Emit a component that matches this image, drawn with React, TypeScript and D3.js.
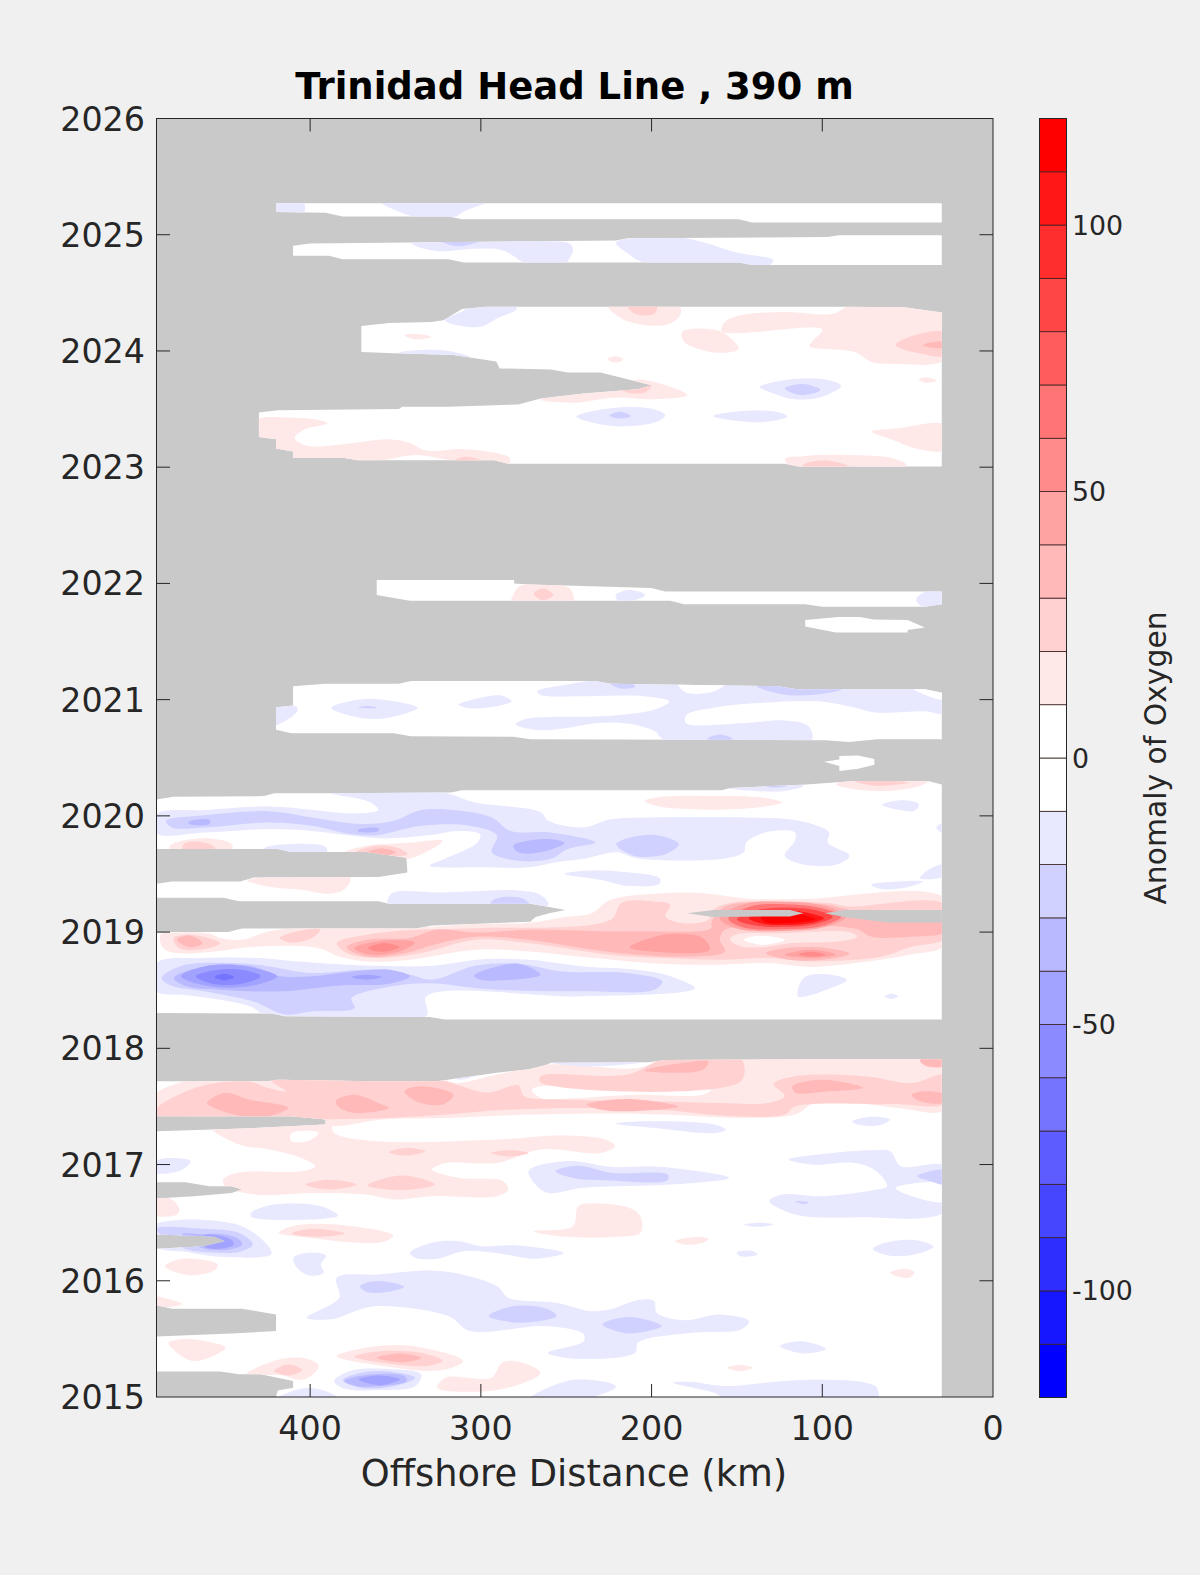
import React from "react";
import * as d3 from "d3";

type Pt = [number, number];
type Shape = Pt[];

const title = "Trinidad Head Line , 390 m";
const xLabel = "Offshore Distance (km)";
const barLabel = "Anomaly of Oxygen";
const xTicks = [400, 300, 200, 100, 0];
const yTicks = [2015, 2016, 2017, 2018, 2019, 2020, 2021, 2022, 2023, 2024, 2025, 2026];
const barTicks = [-100, -50, 0, 50, 100];
const barEdges = [-120,-110,-100,-90,-80,-70,-60,-50,-40,-30,-20,-10,0,10,20,30,40,50,60,70,80,90,100,110,120];

// Parts of the section that hold data (km, year)
const validRegions: Shape[] = [
  [[420,2025.27],[30,2025.27],[30,2025.106],[141,2025.106],[149,2025.134],[311,2025.134],[319,2025.157],[381,2025.157],[391,2025.19],[420,2025.195]],
  [[410,2024.905],[400,2024.925],[221,2024.95],[214,2024.97],[97,2024.98],[90,2024.995],[30,2024.995],[30,2024.74],[141,2024.74],[149,2024.76],[310,2024.76],[319,2024.79],[381,2024.79],[389,2024.82],[410,2024.82]],
  [[30,2024.33],[52,2024.375],[87,2024.38],[281,2024.38],[297,2024.38],[311,2024.36],[322,2024.265],[329,2024.25],[354,2024.24],[370,2024.215],[370,2023.99],[351,2023.98],[316,2023.965],[291,2023.91],[289,2023.85],[259,2023.84],[249,2023.815],[230,2023.815],[200,2023.705],[208,2023.67],[240,2023.635],[265,2023.59],[278,2023.54],[319,2023.52],[346,2023.52],[348,2023.5],[419,2023.49],[430,2023.47],[430,2023.26],[420,2023.24],[420,2023.16],[410,2023.135],[410,2023.08],[380,2023.08],[372,2023.06],[292,2023.06],[284,2023.03],[122,2023.03],[114,2023.005],[30,2023.005]],
  [[361,2022.03],[280.5,2022.03],[280.5,2022.0],[271,2021.99],[200,2021.96],[192,2021.93],[30,2021.93],[30,2021.82],[40,2021.8],[100,2021.8],[110,2021.82],[181,2021.82],[189,2021.85],[341.5,2021.85],[361,2021.9]],
  [[110,2021.686],[90.5,2021.71],[78,2021.71],[70,2021.69],[50,2021.686],[40,2021.62],[50,2021.6],[50,2021.577],[92,2021.577],[110,2021.63]],
  [[410,2021.115],[391,2021.137],[348,2021.137],[341,2021.16],[233,2021.16],[224,2021.137],[126,2021.115],[115,2021.09],[40,2021.09],[30,2021.06],[30,2020.66],[68,2020.66],[84,2020.635],[98,2020.65],[271,2020.66],[281,2020.68],[341,2020.686],[351,2020.71],[411,2020.71],[420,2020.74],[420,2020.935],[410,2020.95]],
  [[99,2020.466],[90,2020.486],[90,2020.515],[79,2020.52],[69.5,2020.49],[69.5,2020.44],[79,2020.405],[90,2020.385],[90,2020.43]],
  [[30,2020.27],[38,2020.3],[81,2020.3],[109.5,2020.27],[154,2020.24],[159,2020.22],[311,2020.22],[317.5,2020.2],[389,2020.195],[421,2020.195],[427,2020.17],[480,2020.165],[490,2020.14],
   [490,2019.714],[419,2019.714],[411,2019.69],[367,2019.69],[343.6,2019.64],[343,2019.513],[360,2019.473],[433,2019.47],[441,2019.435],[481,2019.435],[490,2019.415],
   [490,2019.295],[451,2019.295],[441.6,2019.266],[360,2019.266],[354,2019.243],[271,2019.243],[260,2019.215],[250.5,2019.19],[260,2019.163],[268,2019.13],[271,2019.09],[328.6,2019.057],[338,2019.03],[440,2019.03],[448,2019.0],[490,2019.0],
   [490,2018.304],[422.6,2018.3],[414.6,2018.275],[330,2018.27],[321,2018.247],[30,2018.247],
   [30,2017.908],[192,2017.9],[201.7,2017.88],[259,2017.875],[261,2017.86],[271.6,2017.82],[290.7,2017.79],[325.6,2017.717],[363.6,2017.717],[419,2017.73],[425,2017.717],[490,2017.717],
   [490,2017.415],[411,2017.415],[391,2017.387],[391,2017.344],[443.6,2017.307],[490,2017.286],
   [490,2016.848],[473,2016.848],[459,2016.814],[446,2016.814],[440,2016.785],[446,2016.756],[468,2016.728],[490,2016.708],
   [490,2016.398],[456,2016.38],[449.6,2016.34],[462,2016.298],[490,2016.275],
   [490,2015.79],[481,2015.76],[440,2015.76],[420,2015.71],[420,2015.567],[446,2015.547],[490,2015.52],
   [490,2015.22],[452.7,2015.22],[441.6,2015.195],[429,2015.195],[410,2015.138],[410,2015.08],[419,2015.057],[420,2015.0],[30,2015.0]],
];

// Grey slivers that sit inside the data area
const greyIslands: Shape[] = [
  [[179,2019.163],[164,2019.19],[119,2019.19],[111,2019.163],[119,2019.135],[164,2019.13]],
  [[98.4,2019.163],[87,2019.19],[30,2019.19],[30,2019.083],[62,2019.083],[87,2019.13]],
];

const neg1: Shape[] = [
  [[420,2025.28],[404,2025.28],[404,2025.18],[420,2025.18]],
  [[360,2025.3],[338,2025.15],[316,2025.15],[310,2025.2],[295,2025.28],[290,2025.3]],
  [[340,2024.92],[326,2024.86],[303.4,2024.88],[287,2024.865],[271.6,2024.74],[252,2024.74],[246,2024.865],[247.7,2024.92],[262,2024.945],[300,2024.957],[341.5,2024.97]],
  [[221,2024.93],[214,2024.965],[182.6,2024.975],[170,2024.937],[151,2024.85],[128.6,2024.78],[132,2024.73],[205,2024.765],[214,2024.84]],
  [[309.7,2024.35],[321,2024.265],[313,2024.22],[300,2024.21],[290.6,2024.28],[279,2024.36],[281,2024.4],[306.5,2024.39]],
  [[348,2023.985],[332,2024.01],[319,2024.0],[306.5,2023.95],[325.6,2023.945]],
  [[244,2023.435],[224,2023.507],[201.7,2023.507],[192,2023.45],[197,2023.39],[217.6,2023.35],[236.6,2023.39]],
  [[164,2023.44],[144.5,2023.486],[125,2023.47],[120.6,2023.435],[132,2023.39],[151,2023.4]],
  [[136.5,2023.69],[119,2023.755],[97,2023.75],[89,2023.7],[100,2023.607],[116,2023.584],[128.6,2023.635]],
  [[221,2021.9],[213,2021.943],[203.7,2021.9],[211.6,2021.85],[220,2021.857]],
  [[45,2021.857],[41,2021.92],[28,2021.94],[28,2021.82],[41,2021.8]],
  [[387.6,2020.93],[372,2021.0],[357.6,2021.0],[337,2020.93],[354.6,2020.843],[370.5,2020.843]],
  [[313,2020.957],[303,2021.006],[287.6,2021.034],[282,2020.986],[291,2020.943],[306.6,2020.926]],
  [[422,2020.93],[408,2020.94],[407.5,2020.9],[422,2020.777]],
  [[267,2021.07],[249.6,2021.13],[230,2021.17],[120,2021.17],[28,2021.12],[28,2020.886],[40,2020.9],[68.6,2020.89],[84.5,2020.943],[103,2020.986],[138,2020.97],[163.5,2020.93],[179.4,2020.87],[180,2020.8],[144.5,2020.8],[122,2020.82],[108,2020.77],[106.4,2020.65],[192,2020.65],[198.4,2020.73],[214,2020.794],[232,2020.8],[249.6,2020.757],[265.4,2020.737],[279.6,2020.786],[274.8,2020.83],[258.9,2020.85],[230,2020.857],[198.5,2020.914],[189.6,2020.986],[204.8,2021.03],[239.8,2021.03],[265,2021.04]],
  [[157,2020.243],[130,2020.29],[112.7,2020.27],[111,2020.257],[122,2020.214],[147.7,2020.223]],
  [[65,2020.094],[54,2020.134],[43.4,2020.1],[46,2020.043],[54,2020.05]],
  [[28,2019.943],[33.3,2019.9],[28,2019.843]],
  [[490,2020.014],[462,2020.05],[424,2020.08],[398,2020.05],[376,2020.02],[360,2020.05],[365,2020.12],[389,2020.2],[322.4,2020.2],[303.4,2020.114],[265.2,2020.034],[260.5,2019.957],[239.8,2019.9],[224,2019.97],[198.5,2019.986],[144.5,2019.986],[119,2019.97],[103,2019.914],[96,2019.857],[96.8,2019.77],[84,2019.657],[90.5,2019.586],[109.5,2019.577],[122,2019.657],[116,2019.786],[116,2019.857],[131.8,2019.863],[144.5,2019.77],[146,2019.686],[157,2019.634],[208,2019.634],[220.7,2019.686],[239.8,2019.63],[255.7,2019.6],[272,2019.557],[297,2019.557],[330,2019.571],[321,2019.63],[302,2019.77],[300.4,2019.84],[313,2019.87],[332,2019.83],[357.6,2019.806],[376.6,2019.83],[398.8,2019.87],[424,2019.886],[462,2019.857],[490,2019.85]],
  [[427,2019.72],[411.3,2019.757],[390.7,2019.73],[390.7,2019.67],[427,2019.68]],
  [[250.9,2019.5],[239.8,2019.527],[217.6,2019.52],[195.3,2019.464],[195.3,2019.415],[214.4,2019.398],[230,2019.45]],
  [[71.4,2019.407],[55.5,2019.435],[41,2019.435],[49.2,2019.39],[65,2019.37]],
  [[42.8,2019.464],[36.4,2019.55],[28,2019.58],[28,2019.484]],
  [[352.6,2019.33],[322.4,2019.34],[293.8,2019.358],[278,2019.358],[265,2019.32],[260.5,2019.235],[354,2019.22]],
  [[490,2018.733],[462,2018.777],[430,2018.777],[408,2018.748],[360.7,2018.71],[328.6,2018.71],[296.8,2018.768],[271.6,2018.762],[239.8,2018.705],[208,2018.676],[189,2018.62],[174.7,2018.52],[179.4,2018.49],[239.8,2018.447],[331.9,2018.447],[331.9,2018.28],[425,2018.28],[435,2018.36],[452.8,2018.418],[474.8,2018.46],[490,2018.49]],
  [[114.3,2018.447],[111,2018.605],[100,2018.64],[85.7,2018.59],[100,2018.49],[109.5,2018.447]],
  [[63.5,2018.447],[59.3,2018.47],[55.5,2018.447],[59.3,2018.424]],
  [[259,2017.875],[233,2017.89],[202,2017.89],[215,2017.86],[239.8,2017.845]],
  [[319,2017.76],[303,2017.765],[313,2017.73]],
  [[220.7,2017.352],[208,2017.37],[163.5,2017.344],[156.6,2017.3],[163.5,2017.27],[198.5,2017.316]],
  [[82.5,2017.37],[73,2017.41],[60.3,2017.387],[66.6,2017.338],[79.3,2017.344]],
  [[272,2016.943],[249,2017.03],[223.9,2016.98],[195.3,2016.98],[154.6,2016.885],[189,2016.828],[239.8,2016.8],[260.5,2016.756],[267,2016.814]],
  [[119.7,2017.043],[96.8,2017.095],[71.4,2017.123],[60.3,2017.115],[54,2016.986],[28,2016.986],[28,2016.6],[77.8,2016.547],[112.7,2016.56],[123.8,2016.613],[131,2016.685],[123.8,2016.742],[100,2016.728],[68.2,2016.785],[62,2016.814],[68.2,2016.943],[81,2017.014],[106.4,2017.0]],
  [[146,2016.484],[136.5,2016.5],[128.6,2016.484],[138,2016.464]],
  [[434.5,2016.585],[424.3,2016.648],[408.5,2016.665],[392.6,2016.636],[383.7,2016.56],[434.5,2016.55]],
  [[492,2016.47],[440,2016.47],[422.6,2016.235],[452.8,2016.206],[471.9,2016.247],[492,2016.3]],
  [[341.5,2016.24],[328.8,2016.327],[312.8,2016.34],[300,2016.298],[278.4,2016.304],[251.4,2016.24],[269,2016.19],[291,2016.24],[310,2016.255],[325.6,2016.19],[338.3,2016.198]],
  [[150.2,2016.246],[141.3,2016.258],[138,2016.226],[147.7,2016.21]],
  [[70.4,2016.275],[61.8,2016.332],[46,2016.35],[34.9,2016.292],[46,2016.226],[61.8,2016.22]],
  [[409.8,2016.198],[401.9,2016.24],[390.7,2016.218],[393.8,2016.14],[392,2016.07],[400.3,2016.046],[407.6,2016.11]],
  [[384.4,2016.026],[360.7,2016.054],[322.4,2016.083],[290.6,2015.954],[284,2015.854],[255.7,2015.81],[236.6,2015.74],[224,2015.754],[208,2015.834],[198.5,2015.825],[197,2015.725],[181,2015.66],[160.4,2015.71],[142.9,2015.653],[147.7,2015.58],[176.3,2015.553],[208,2015.467],[209.6,2015.38],[245.7,2015.33],[260.7,2015.38],[239.8,2015.48],[239.8,2015.54],[262,2015.61],[306.5,2015.567],[319,2015.696],[360.7,2015.782],[373.4,2015.74],[386,2015.673],[402,2015.682],[383,2015.854]],
  [[124.8,2015.438],[112.7,2015.48],[97.8,2015.415],[111,2015.375]],
  [[386,2015.138],[376.6,2015.224],[357.6,2015.244],[335,2015.195],[338.3,2015.095],[360.7,2015.06],[379.7,2015.07]],
  [[420,2014.98],[401.9,2015.08],[386,2015.02],[383,2014.98]],
  [[272,2014.98],[249.4,2015.138],[230.3,2015.138],[220.7,2015.09],[239.8,2014.98]],
  [[187.4,2015.123],[176.3,2015.13],[157.2,2015.095],[112.7,2015.146],[74.6,2015.123],[68,2015.08],[68,2014.98],[155.6,2014.98],[163.5,2015.037]],
  [[490,2017.03],[481,2017.057],[470,2017.03],[474.8,2016.957],[486,2016.92],[490,2016.93]],
];

const pos1: Shape[] = [
  [[225.5,2024.39],[217.6,2024.28],[201.7,2024.22],[189,2024.236],[183,2024.32],[184,2024.39]],
  [[157,2024.25],[159,2024.17],[100,2024.185],[106,2024.08],[107.6,2024.04],[81,2023.99],[71.4,2023.907],[58.7,2023.89],[28,2023.93],[28,2024.34],[52,2024.39],[84,2024.39],[93.6,2024.32],[122,2024.336],[147.7,2024.307]],
  [[182,2024.165],[160,2024.17],[149,2024.02],[160,2023.984],[173,2024.02],[181,2024.08]],
  [[345,2024.136],[337,2024.145],[329,2024.12],[338,2024.1]],
  [[226,2023.93],[220.7,2023.955],[216.6,2023.927],[221.4,2023.9]],
  [[43.4,2023.755],[39,2023.773],[33,2023.744],[39.6,2023.727]],
  [[265,2023.58],[252.3,2023.62],[230,2023.655],[214,2023.68],[209.6,2023.75],[192,2023.707],[179,2023.62],[198,2023.584],[220.7,2023.6],[245.7,2023.555]],
  [[70.8,2023.306],[55.5,2023.335],[28,2023.363],[28,2023.15],[46,2023.163],[58.7,2023.235]],
  [[122,2023.07],[109.5,2023.097],[84,2023.105],[58.7,2023.077],[50.7,2023.02],[52,2022.98],[116,2022.98]],
  [[432,2023.4],[411,2023.426],[395,2023.406],[390,2023.378],[404,2023.32],[409,2023.25],[401,2023.183],[376,2023.206],[354,2023.24],[341.5,2023.206],[332,2023.143],[309.7,2023.155],[290.6,2023.12],[283,2023.078],[284,2023.02],[316,2023.057],[338,2023.105],[362,2023.05],[383,2023.06],[414.6,2023.06],[432,2023.235]],
  [[281,2021.9],[278,2021.97],[270,2022.0],[248,2021.957],[246,2021.84],[282,2021.84]],
  [[92,2020.27],[81,2020.31],[36.4,2020.31],[43,2020.257],[62,2020.214],[81,2020.229]],
  [[204,2020.129],[192,2020.166],[163.5,2020.171],[135,2020.157],[123.6,2020.114],[144.5,2020.063],[176.3,2020.057],[195,2020.08]],
  [[482,2019.743],[475,2019.786],[459,2019.806],[446,2019.757],[446,2019.7],[482,2019.7]],
  [[379.5,2019.686],[367,2019.743],[344.6,2019.766],[322.4,2019.786],[341.6,2019.634],[367,2019.66]],
  [[436.8,2019.444],[376.6,2019.47],[379.7,2019.37],[389,2019.33],[405,2019.364],[424,2019.39]],
  [[487.7,2018.977],[478,2018.997],[459,2018.986],[452.8,2018.95],[440,2018.934],[424.3,2019.006],[398.9,2019.04],[338,2019.04],[303,2019.07],[271.6,2019.08],[250.9,2019.13],[235,2019.163],[224,2019.278],[192,2019.335],[170,2019.335],[144.5,2019.29],[112.7,2019.284],[28,2019.29],[28,2018.89],[49.2,2018.805],[81,2018.733],[106.4,2018.7],[131.8,2018.733],[160.4,2018.72],[192,2018.725],[233.5,2018.777],[271.6,2018.834],[303,2018.848],[341.5,2018.762],[367,2018.748],[383,2018.79],[395,2018.862],[430,2018.877],[455.9,2018.834],[478,2018.82],[486,2018.862]],
  [[492,2017.587],[472,2017.72],[420,2017.74],[325,2017.74],[314.5,2017.7],[290.7,2017.774],[259,2017.86],[208,2017.83],[189,2017.92],[28,2017.92],[28,2017.473],[55.5,2017.487],[93.6,2017.553],[106.4,2017.516],[116,2017.43],[144.5,2017.4],[192,2017.43],[224,2017.44],[271.6,2017.43],[322.4,2017.4],[357.4,2017.387],[386,2017.33],[420,2017.38],[492,2017.473]],
  [[459,2017.33],[441.6,2017.172],[424,2017.13],[405,2017.057],[397,2016.986],[405,2016.943],[443.2,2016.928],[451,2016.87],[449.6,2016.814],[432,2016.742],[398.9,2016.756],[367,2016.742],[351,2016.7],[328.6,2016.728],[290.6,2016.728],[284,2016.785],[287,2016.857],[312.6,2016.885],[328.6,2016.957],[320.7,2017.014],[290.6,2017.014],[265,2017.13],[230,2017.1],[221.4,2017.158],[227,2017.215],[252,2017.25],[290.6,2017.215],[360.7,2017.2],[386,2017.272],[388,2017.34],[420,2017.36]],
  [[492,2016.713],[481,2016.7],[476.6,2016.613],[478,2016.57],[492,2016.57]],
  [[418.5,2016.413],[408.7,2016.476],[384.8,2016.484],[351.4,2016.39],[356,2016.34],[372,2016.327],[400,2016.37]],
  [[269,2016.427],[246,2016.47],[243,2016.642],[233.5,2016.665],[212.8,2016.627],[206.5,2016.556],[206.5,2016.413],[220.7,2016.378],[249.4,2016.378]],
  [[186.4,2016.34],[176.3,2016.375],[166.7,2016.36],[170,2016.327],[179.4,2016.31]],
  [[60.3,2016.07],[50.7,2016.103],[46,2016.07],[49.2,2016.026],[55,2016.035]],
  [[485,2016.126],[474.8,2016.19],[454.2,2016.14],[456,2016.09],[471.9,2016.05]],
  [[492,2015.86],[481,2015.834],[474.8,2015.797],[492,2015.78]],
  [[483,2015.467],[471.9,2015.5],[449.6,2015.424],[468.7,2015.31]],
  [[437.5,2015.195],[417.8,2015.324],[402,2015.33],[395,2015.267],[403.6,2015.15],[417.8,2015.19]],
  [[384.4,2015.352],[367,2015.424],[341.5,2015.44],[310.4,2015.31],[322.4,2015.232],[357.6,2015.267]],
  [[325.6,2015.08],[320.7,2015.166],[293.8,2015.166],[287.5,2015.295],[278,2015.304],[265,2015.21],[274.8,2015.123],[296.8,2015.05]],
  [[155.6,2015.252],[148.3,2015.275],[140.7,2015.252],[148.3,2015.224]],
];

// White gaps left inside the palest bands
const holes1: Shape[] = [
  [[184.2,2021.13],[157.2,2021.13],[163.5,2021.07],[176.3,2021.05],[181,2021.07]],
  [[47.6,2021.1],[28,2021.1],[28,2021.0]],
  [[57,2016.8],[28,2016.83],[28,2016.685],[50,2016.74]],
  [[411,2017.27],[395,2017.275],[400,2017.21],[411,2017.2]],
  [[270,2017.645],[252.5,2017.688],[176.3,2017.7],[165,2017.645],[170,2017.6],[208,2017.6],[243,2017.573],[265,2017.573]],
];

const neg2: Shape[] = [
  [[327,2024.97],[322,2024.93],[313,2024.9],[303,2024.93],[298,2024.97]],
  [[224.6,2023.443],[218,2023.478],[212,2023.44],[218,2023.418]],
  [[122,2023.68],[111,2023.715],[101,2023.664],[112.7,2023.62]],
  [[372,2020.935],[366,2020.945],[360.7,2020.93],[366,2020.925]],
  [[224,2021.137],[217.6,2021.094],[209.6,2021.114],[213,2021.15]],
  [[138,2021.114],[120.6,2021.04],[96.8,2021.057],[87.3,2021.1],[87.3,2021.13],[120,2021.14]],
  [[167.4,2020.663],[160.4,2020.7],[152.4,2020.663],[160.4,2020.64]],
  [[136,2020.27],[130,2020.243],[120.6,2020.257],[128,2020.28]],
  [[484.5,2019.957],[462,2020.006],[424,2020.04],[398.9,2019.986],[370,2019.93],[351,2019.957],[335,2020.05],[316,2020.05],[293.6,2019.986],[282.6,2019.87],[259,2019.857],[232.8,2019.77],[249,2019.714],[258.9,2019.63],[278,2019.614],[293.6,2019.686],[290.6,2019.83],[306.5,2019.914],[335,2019.914],[360.7,2019.834],[376.6,2019.843],[398.8,2019.914],[424,2019.943],[462,2019.9],[481,2019.9]],
  [[220.7,2019.757],[200,2019.837],[184,2019.757],[192,2019.67],[211,2019.66]],
  [[293.8,2019.264],[287.5,2019.3],[274.8,2019.284],[271,2019.22],[293.8,2019.22]],
  [[487,2018.605],[475,2018.71],[446.3,2018.733],[424,2018.705],[398.9,2018.648],[367,2018.676],[341.5,2018.633],[328.6,2018.59],[303.4,2018.71],[278,2018.728],[252.5,2018.662],[214.4,2018.648],[193.7,2018.576],[198.5,2018.504],[239.8,2018.49],[297,2018.51],[329.6,2018.56],[353.5,2018.53],[375.8,2018.43],[374,2018.347],[398.9,2018.318],[414.5,2018.29],[433.6,2018.404],[462,2018.49],[481.4,2018.54]],
  [[256.3,2016.943],[243,2016.99],[223.9,2016.93],[190.6,2016.914],[190.6,2016.865],[227,2016.865],[246,2016.885]],
  [[44.4,2016.9],[28,2016.95],[28,2016.83],[36.4,2016.857]],
  [[115.9,2016.685],[108,2016.676],[111,2016.66]],
  [[490,2016.447],[462,2016.447],[441.6,2016.41],[433.6,2016.312],[440,2016.255],[452.8,2016.24],[475,2016.284]],
  [[370.7,2015.954],[360.7,2015.997],[344.9,2015.948],[357.6,2015.897],[368,2015.91]],
  [[295.4,2015.696],[281,2015.782],[260.5,2015.754],[255.7,2015.696],[276.5,2015.639]],
  [[228.7,2015.625],[212.8,2015.688],[194,2015.61],[214.4,2015.547]],
  [[381,2015.146],[367.7,2015.215],[351.7,2015.215],[338.4,2015.166],[351.7,2015.09],[370.7,2015.08]],
];

const pos2: Shape[] = [
  [[214,2024.39],[209.6,2024.32],[198.5,2024.32],[197,2024.39]],
  [[57,2024.05],[49,2024.12],[28,2024.156],[28,2023.964],[43,2023.98]],
  [[217.6,2023.665],[200,2023.707],[203,2023.65],[211,2023.635]],
  [[111,2023.02],[98.4,2023.057],[84,2023.005],[111,2022.98]],
  [[315,2023.063],[308.4,2023.09],[300,2023.057],[308,2023.04]],
  [[269,2021.914],[263,2021.957],[257.6,2021.9],[264,2021.857]],
  [[81,2020.3],[68.6,2020.257],[49.5,2020.286],[65,2020.31]],
  [[474,2019.757],[464.6,2019.777],[456,2019.73],[456,2019.69],[474,2019.69]],
  [[373,2019.69],[360.7,2019.743],[348,2019.72],[343,2019.67],[360,2019.65]],
  [[480,2018.95],[472,2018.977],[462.5,2018.96],[452.8,2018.905],[462.5,2018.854],[476.6,2018.862]],
  [[417.8,2018.95],[405,2019.014],[394,2019.02],[398.9,2018.95],[411.6,2018.91]],
  [[384.4,2018.905],[367,2018.977],[338,2019.02],[303,2019.034],[224,2019.106],[217.6,2019.25],[198.5,2019.264],[189,2019.235],[192,2019.135],[181,2019.077],[166.7,2019.106],[164,2019.19],[154,2019.25],[128.6,2019.264],[96.8,2019.25],[84,2019.22],[28,2019.235],[28,2018.95],[49,2018.87],[65,2018.79],[106,2018.748],[131.8,2018.777],[160.4,2018.762],[192,2018.777],[224,2018.805],[271.6,2018.905],[303,2018.934],[335,2018.82],[360.7,2018.777],[378.6,2018.82]],
  [[489,2017.5],[465,2017.67],[437,2017.716],[425,2017.66],[414,2017.63],[423,2017.73],[325.6,2017.73],[297,2017.62],[278,2017.68],[274.8,2017.59],[252,2017.56],[200,2017.545],[160,2017.53],[131.8,2017.53],[122,2017.59],[128.6,2017.69],[116,2017.76],[74.6,2017.76],[48,2017.7],[28,2017.77],[28,2017.53],[60,2017.52],[116,2017.5],[122,2017.43],[157,2017.42],[192,2017.467],[240,2017.487],[287,2017.47],[335,2017.416],[400,2017.39],[492,2017.44]],
  [[265,2017.76],[214,2017.774],[192,2017.91],[147.7,2017.91],[147.7,2017.716],[265,2017.707]],
  [[354,2017.106],[343.6,2017.143],[332.5,2017.115],[343.6,2017.077]],
  [[294.1,2017.1],[283,2017.123],[272,2017.1],[283,2017.07]],
  [[402.8,2016.828],[388.6,2016.87],[372.7,2016.828],[388.6,2016.785]],
  [[366.3,2016.82],[346.3,2016.905],[327,2016.828],[346.3,2016.78]],
  [[410.8,2016.407],[398.9,2016.447],[379.7,2016.407],[395.7,2016.378]],
  [[421,2015.224],[413,2015.28],[404.6,2015.232],[412.4,2015.186]],
  [[374,2015.347],[357.6,2015.395],[335,2015.38],[322.4,2015.31],[332,2015.267],[357.6,2015.295]],
];

const neg3: Shape[] = [
  [[471,2019.95],[459,2019.966],[459,2019.93],[471,2019.93]],
  [[372,2019.88],[360,2019.894],[360,2019.87],[372,2019.865]],
  [[281,2019.743],[262,2019.8],[251,2019.766],[265,2019.686],[278,2019.686]],
  [[304,2018.625],[293.8,2018.69],[278,2018.728],[265,2018.633],[287.5,2018.585],[300,2018.59]],
  [[479.8,2018.605],[462,2018.705],[433.6,2018.705],[419.3,2018.625],[398.9,2018.62],[375,2018.662],[353.5,2018.676],[341.5,2018.62],[353.5,2018.556],[382,2018.54],[417,2018.49],[452.8,2018.504],[472,2018.533]],
  [[462.2,2016.4],[456,2016.407],[443,2016.37],[439.8,2016.312],[449.6,2016.264],[465.6,2016.292],[475,2016.4]],
  [[380,2015.138],[364,2015.195],[344.9,2015.18],[343.4,2015.138],[357.6,2015.095],[373,2015.095]],
];

const pos3: Shape[] = [
  [[41,2024.05],[36.4,2024.073],[28,2024.073],[28,2024.03],[36.4,2024.03]],
  [[349.7,2019.686],[357.6,2019.72],[367,2019.686],[360,2019.65]],
  [[378.6,2018.87],[367,2018.934],[341.5,2018.95],[325.6,2019.02],[303.4,2018.997],[271.6,2019.02],[214.4,2019.006],[165,2019.034],[165,2019.077],[157,2019.22],[128,2019.255],[97,2019.235],[84,2019.19],[28,2019.09],[28,2019.0],[49,2018.96],[71,2018.96],[81,2019.03],[157,2019.02],[160,2018.934],[157,2018.834],[176,2018.79],[208,2018.805],[240,2018.862],[272,2018.934],[303,2018.96],[328,2018.89],[344,2018.82],[367,2018.79]],
  [[460.4,2017.53],[450,2017.616],[436,2017.56],[412.9,2017.487],[425.7,2017.41],[440,2017.415],[456,2017.487]],
  [[385,2017.545],[374.6,2017.6],[360,2017.53],[354,2017.487],[373,2017.444],[382.5,2017.487]],
  [[344.7,2017.63],[335,2017.673],[316,2017.6],[322.4,2017.516],[338,2017.545]],
  [[238,2017.516],[214.4,2017.565],[184.2,2017.5],[214.4,2017.458],[230.3,2017.473]],
  [[117.5,2017.673],[100,2017.73],[76,2017.66],[100,2017.625],[116,2017.62]],
  [[47.6,2017.6],[41,2017.63],[28,2017.6],[28,2017.535],[42.8,2017.545]],
  [[42.8,2017.9],[28,2017.92],[28,2017.85],[39.6,2017.85]],
  [[204,2017.81],[181,2017.875],[166.7,2017.887],[170,2017.815],[189,2017.79]],
  [[361,2015.338],[347.3,2015.375],[335,2015.338],[344.7,2015.3]],
  [[478,2018.934],[471,2018.97],[463,2018.905],[471,2018.87]],
  [[133,2018.82],[122,2018.862],[96.8,2018.862],[84,2018.814],[100,2018.762],[119,2018.762]],
];

const neg4: Shape[] = [
  [[475.6,2018.62],[462,2018.705],[440,2018.71],[419.3,2018.62],[433.6,2018.54],[459,2018.533]],
  [[375.8,2018.613],[367,2018.633],[358,2018.613],[367,2018.59]],
  [[462.2,2016.39],[446.3,2016.355],[444.8,2016.312],[452.8,2016.275],[462.2,2016.3]],
  [[371.6,2015.152],[360.7,2015.186],[347.4,2015.152],[358.8,2015.1]],
];

const pos4: Shape[] = [
  [[212.8,2018.87],[198.5,2018.957],[187.4,2018.986],[170,2018.95],[166,2018.848],[192,2018.825]],
  [[374,2018.862],[361,2018.92],[338.7,2018.91],[345,2018.848],[357.8,2018.805],[369,2018.82]],
  [[122,2018.805],[106.4,2018.848],[92,2018.805],[106.4,2018.777]],
  [[160,2019.12],[146,2019.24],[122.2,2019.262],[100,2019.23],[86,2019.135],[98,2019.045],[122.2,2019.01],[150,2019.03]],
];

const neg5: Shape[] = [
  [[467,2018.62],[457.5,2018.668],[440,2018.676],[429,2018.62],[440,2018.556],[457.5,2018.556]],
];

const pos5: Shape[] = [
  [[366,2018.862],[357.8,2018.905],[347.7,2018.87],[357.8,2018.83]],
  [[114,2018.81],[106.4,2018.83],[98.4,2018.805],[106.4,2018.79]],
];

const neg6: Shape[] = [
  [[456,2018.613],[450.4,2018.642],[444.4,2018.613],[450.4,2018.585]],
];

const pos6: Shape[] = [
  [[155,2019.115],[142,2019.22],[122,2019.24],[100,2019.205],[89,2019.135],[100,2019.055],[122,2019.025],[146,2019.04]],
];
const pos8: Shape[] = [
  [[150,2019.11],[138,2019.19],[122,2019.21],[104,2019.19],[94,2019.13],[104,2019.07],[122,2019.045],[141,2019.06]],
];
const pos10: Shape[] = [
  [[143,2019.12],[122,2019.185],[104,2019.15],[99,2019.12],[108,2019.075],[122,2019.06],[136,2019.075]],
];
const pos11: Shape[] = [
  [[136,2019.13],[122,2019.17],[108,2019.135],[104,2019.11],[122,2019.075],[134,2019.09]],
];

// Pale ring and white gap that sit on top of the darker band near 2018.93
const ringLight: Shape[] = [
  [[154,2018.934],[151,2018.977],[125,2018.99],[84.3,2019.0],[79.5,2018.96],[90.5,2018.92],[119,2018.905],[135,2018.87],[147.7,2018.877]],
];
const ringWhite: Shape[] = [
  [[146,2018.934],[138,2018.968],[122,2018.934],[135,2018.89]],
];

const layers: [number, Shape[]][] = [
  [1, pos1], [-1, neg1], [0, holes1],
  [2, pos2], [-2, neg2],
  [3, pos3], [-3, neg3],
  [4, pos4], [-4, neg4],
  [5, pos5], [-5, neg5],
  [6, pos6], [-6, neg6],
  [8, pos8], [10, pos10], [11, pos11],
  [1, ringLight], [0, ringWhite],
];

const GREY = "#c9c9c9";
const INK = "#262626";
const FONT = "'DejaVu Sans', sans-serif";

const x = d3.scaleLinear().domain([490, 0]).range([156.5, 993]);
const y = d3.scaleLinear().domain([2015, 2026]).range([1397, 118.5]);
const barY = d3.scaleLinear().domain([-120, 120]).range([1397.5, 118.5]);
const ramp = d3.scaleLinear<number>().domain([0, 11]).range([255, 0]).clamp(true);
const levelColor = (n: number) => {
  const v = Math.round(ramp(Math.abs(n)));
  return n >= 0 ? `rgb(255,${v},${v})` : `rgb(${v},${v},255)`;
};
const smooth = d3.line<Pt>().x((d) => x(d[0])).y((d) => y(d[1])).curve(d3.curveCatmullRomClosed.alpha(0.5));
const straight = d3.line<Pt>().x((d) => x(d[0])).y((d) => y(d[1])).curve(d3.curveLinearClosed);

const [plotL, plotR] = x.range();
const [plotB, plotT] = y.range();
const barL = 1039.5;
const barR = 1066.5;

export default function App() {
  const validPath = validRegions.map((s) => straight(s)).join(" ");
  return (
    <svg width={1200} height={1575} viewBox="0 0 1200 1575" style={{ position: "absolute", left: 0, top: 0, display: "block" }} fontFamily={FONT}>
      <defs>
        <clipPath id="valid"><path d={validPath} /></clipPath>
      </defs>
      <rect width={1200} height={1575} fill="#f0f0f0" />
      <rect x={plotL} y={plotT} width={plotR - plotL} height={plotB - plotT} fill={GREY} />
      <path d={validPath} fill="#fff" />
      <g clipPath="url(#valid)">
        {layers.map(([lv, shapes], i) =>
          shapes.map((s, j) => <path key={`${i}-${j}`} d={smooth(s) ?? ""} fill={levelColor(lv)} />)
        )}
      </g>
      {greyIslands.map((s, i) => <path key={i} d={straight(s) ?? ""} fill={GREY} />)}

      <rect x={plotL} y={plotT} width={plotR - plotL} height={plotB - plotT} fill="none" stroke={INK} strokeWidth={1} />
      {xTicks.filter((t) => t > 0).map((t) => (
        <g key={t} stroke={INK} strokeWidth={1}>
          <line x1={x(t)} x2={x(t)} y1={plotB} y2={plotB - 13} />
          <line x1={x(t)} x2={x(t)} y1={plotT} y2={plotT + 13} />
        </g>
      ))}
      {yTicks.slice(1, -1).map((t) => (
        <g key={t} stroke={INK} strokeWidth={1}>
          <line x1={plotL} x2={plotL + 13.5} y1={y(t)} y2={y(t)} />
          <line x1={plotR} x2={plotR - 13.5} y1={y(t)} y2={y(t)} />
        </g>
      ))}
      {xTicks.map((t) => (
        <text key={t} x={x(t)} y={1440} textAnchor="middle" fontSize={33.3} fill={INK}>{t}</text>
      ))}
      {yTicks.map((t) => (
        <text key={t} x={145} y={y(t) + 12} textAnchor="end" fontSize={33.3} fill={INK}>{t}</text>
      ))}
      <text x={574.5} y={99} textAnchor="middle" fontSize={37} fontWeight="bold" fill="#000">{title}</text>
      <text x={574} y={1486} textAnchor="middle" fontSize={36.8} fill={INK}>{xLabel}</text>

      {barEdges.slice(0, -1).map((v, i) => (
        <rect key={v} x={barL} width={barR - barL} y={barY(barEdges[i + 1])} height={barY(v) - barY(barEdges[i + 1])}
          fill={levelColor(v >= 0 ? i - 12 : i - 11)}
          stroke="#3a2020" strokeWidth={0.8} />
      ))}
      <rect x={barL} y={barY(120)} width={barR - barL} height={barY(-120) - barY(120)} fill="none" stroke={INK} strokeWidth={1} />
      {barTicks.map((t) => (
        <text key={t} x={1072} y={barY(t) + 9.5} fontSize={26.8} fill={INK}>{t}</text>
      ))}
      <text transform="translate(1157,758) rotate(-90)" textAnchor="middle" dominantBaseline="middle" fontSize={29.8} fill={INK}>{barLabel}</text>
    </svg>
  );
}
